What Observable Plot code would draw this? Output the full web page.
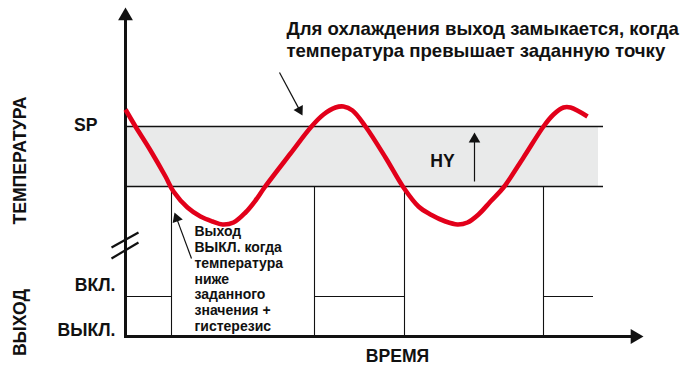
<!DOCTYPE html>
<html><head><meta charset="utf-8">
<script src="https://cdn.jsdelivr.net/npm/d3@7"></script>
<script src="https://cdn.jsdelivr.net/npm/@observablehq/plot@0.6"></script>
<style>body{margin:0;background:#fff} svg{display:block}</style>
</head><body><div id="chart"></div>
<script>
// ---- data (diagram units: time t, level v) ----
const curveTime = [0,5,12.5,20,24,31,37.5,43.5,48.5,54,60,65,69.5,82.5,93,99,105,109,113.5,120,130,139,146.5,152.5,160,166,171,176.5,182.5,189,199,209,214,219,222.5,231];
const curveTemp = [113.5,105,93,80,72.5,64.5,60,57.5,56,57,62,68,74.5,91.5,105,111,114.5,115,113,105,89.5,74.5,65,61,57.5,56,57,61,67.5,74.5,89.5,105,111,114.5,114.5,110];
const SP = 105;
const HY = 30;
const ON_LEVEL = 20;
const OFF_LEVEL = 0;
const switchTimes = [23, 94.5, 139.5, 209];
const onStart = [0, 94.5, 209];
const onEnd = [23, 139.5, 234];
const bandEnd = 236.5;
const lineEnd = 239;
const headline = "Для охлаждения выход замыкается, когда\nтемпература превышает заданную точку";
const noteText = "Выход\nВЫКЛ. когда\nтемпература\nниже\nзаданного\nзначения +\nгистерезис";
const yTitleTemp = "ТЕМПЕРАТУРА";
const yTitleOut = "ВЫХОД";
const xTitle = "ВРЕМЯ";
const spLabel = "SP";
const hyLabel = "HY";
const onLabel = "ВКЛ.";
const offLabel = "ВЫКЛ.";

// ---- layout ----
const X_DOMAIN = [0, 259], X_RANGE = [125, 643];
const Y_DOMAIN = [0, 164], Y_RANGE = [336, 8];
const pxPerUnit = (X_RANGE[1] - X_RANGE[0]) / (X_DOMAIN[1] - X_DOMAIN[0]);
const FONT = "'Liberation Sans', Arial, Helvetica, sans-serif";
const RED = "#e2001a";
const LABEL_SIZE = 17.6;

const curve = curveTime.map((t, i) => ({t, v: curveTemp[i]}));
const onSegs = onStart.map((s, i) => ({s, e: onEnd[i]}));

// arrows (shaft start -> tip)
const arrows = [
  {x1: 77, y1: 132, x2: 88.5, y2: 110.5, r: 3.9},
  {x1: 174.5, y1: 77.5, x2: 174.5, y2: 102, r: 4.3},
  {x1: 33, y1: 39, x2: 24.5, y2: 62, r: 4}
];
function head(a) {
  const dx = a.x2 - a.x1, dy = a.y2 - a.y1, L = Math.hypot(dx, dy);
  const back = 1.555 * a.r / pxPerUnit; // centroid-to-tip distance
  return {x: a.x2 - dx / L * back, y: a.y2 - dy / L * back,
          rot: Math.atan2(dx, dy) * 180 / Math.PI, r: a.r};
}
const axisArrows = [
  {x1: 0, y1: 0, x2: 0, y2: 164.5, r: 5.5},
  {x1: 0, y1: 0, x2: 259, y2: 0, r: 5.5}
];
const breaks = [
  {x1: -7, y1: 44.5, x2: 6.5, y2: 52},
  {x1: -7, y1: 39, x2: 6.5, y2: 47}
];

const headMarks = [...arrows, ...axisArrows].map(a => {
  const h = head(a);
  return Plot.dot([h], {x: "x", y: "y", rotate: "rot", r: h.r, symbol: "triangle", fill: "#111", stroke: "none"});
});

const chart = Plot.plot({
  width: 691, height: 370,
  marginTop: 0, marginRight: 0, marginBottom: 0, marginLeft: 0,
  x: {domain: X_DOMAIN, range: X_RANGE, axis: null},
  y: {domain: Y_DOMAIN, range: Y_RANGE, axis: null},
  style: {fontFamily: FONT, background: "#fff", color: "#111"},
  marks: [
    // hysteresis band
    Plot.rect([{a: SP - HY, b: SP}], {x1: 0, x2: bandEnd, y1: "a", y2: "b", fill: "#e9eaea"}),
    Plot.ruleY([SP, SP - HY], {x1: 0, x2: lineEnd, stroke: "#111", strokeWidth: 1.3}),
    // switching guides
    Plot.ruleX(switchTimes, {y1: SP - HY, y2: OFF_LEVEL, stroke: "#111", strokeWidth: 1.1}),
    // output ON level
    Plot.ruleY(onSegs, {y: () => ON_LEVEL, x1: "s", x2: "e", stroke: "#111", strokeWidth: 1.1}),
    // axes
    Plot.ruleX([0], {y1: -0.5, y2: 158.5, stroke: "#111", strokeWidth: 3}),
    Plot.ruleY([0], {x1: -0.5, x2: 253, stroke: "#111", strokeWidth: 3}),
    // axis break
    Plot.link(breaks, {x1: "x1", y1: "y1", x2: "x2", y2: "y2", stroke: "#111", strokeWidth: 2.2}),
    // temperature curve
    Plot.line(curve, {x: "t", y: "v", stroke: RED, strokeWidth: 4.6, curve: "catmull-rom", strokeLinecap: "butt"}),
    // annotation arrow shafts
    Plot.link(arrows, {x1: "x1", y1: "y1", x2: d => head(d).x, y2: d => head(d).y, stroke: "#111", strokeWidth: 1.2}),
    ...headMarks,
    // texts
    Plot.text([headline], {x: () => 80.5, y: () => 149, text: d => d, textAnchor: "start", fontSize: 18.6, fontWeight: "bold", lineHeight: 1.19}),
    Plot.text([noteText], {x: () => 34.5, y: () => 29, text: d => d, textAnchor: "start", fontSize: 14, fontWeight: "bold", lineHeight: 1.13}),
    Plot.text([spLabel], {x: () => -14, y: () => SP + 0.8, text: d => d, textAnchor: "end", fontSize: LABEL_SIZE, fontWeight: "bold"}),
    Plot.text([hyLabel], {x: () => 158.5, y: () => 87.5, text: d => d, textAnchor: "middle", fontSize: LABEL_SIZE, fontWeight: "bold"}),
    Plot.text([onLabel], {x: () => -5, y: () => ON_LEVEL + 5.5, text: d => d, textAnchor: "end", fontSize: LABEL_SIZE, fontWeight: "bold"}),
    Plot.text([offLabel], {x: () => -5, y: () => OFF_LEVEL + 3, text: d => d, textAnchor: "end", fontSize: LABEL_SIZE, fontWeight: "bold"}),
    Plot.text([yTitleTemp], {x: () => -52.5, y: () => 88, text: d => d, rotate: -90, fontSize: LABEL_SIZE, fontWeight: "bold"}),
    Plot.text([yTitleOut], {x: () => -52.5, y: () => 7, text: d => d, rotate: -90, fontSize: LABEL_SIZE, fontWeight: "bold"}),
    Plot.text([xTitle], {x: () => 136, y: () => -10, text: d => d, fontSize: LABEL_SIZE, fontWeight: "bold"})
  ]
});
document.getElementById("chart").appendChild(chart);
</script>
</body></html>
